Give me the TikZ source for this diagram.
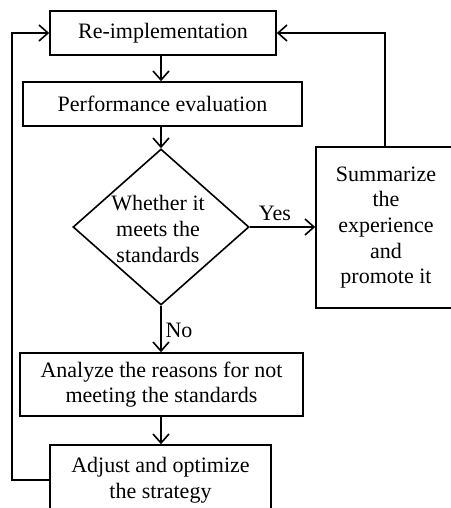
\documentclass[tikz,border=0pt]{standalone}
\usepackage{fontspec}
\setmainfont{Liberation Serif}
\usetikzlibrary{arrows.meta,shapes.geometric}
\begin{document}
\begin{tikzpicture}[x=1pt,y=-1pt, line width=1.6pt,
  txt/.style={font=\fontsize{22}{25.7}\selectfont, align=center},
  box/.style={draw, rectangle, txt, inner sep=0pt},
  arr/.style={-{Straight Barb[length=9pt,width=16pt]}}]
\useasboundingbox[fill=white] (0,0) rectangle (450,508);
\node[box, minimum width=226pt, minimum height=44pt] (re) at (163,33) {Re-implementation};
\node[box, minimum width=279pt, minimum height=44pt] (pe) at (162.5,104) {Performance evaluation};
\node[diamond, draw, minimum width=176pt, minimum height=156pt, inner sep=0pt] (dia) at (161,227) {};
\node[txt] (dt) at (158,229) {Whether it\\meets the\\standards};
\node[box, minimum width=140pt, minimum height=161pt] (sum) at (386,227.5) {Summarize\\the\\experience\\and\\promote it};
\node[box, minimum width=283pt, minimum height=63pt] (an) at (161.5,384.5) {Analyze the reasons for not\\meeting the standards};
\node[box, minimum width=221pt, minimum height=70pt] (ad) at (160.5,480) {Adjust and optimize\\the strategy};
\node[txt, inner sep=0pt] (yes) at (275,213) {Yes};
\node[txt, inner sep=0pt] (no) at (179,330) {No};
\coordinate (rt) at (385,33);
\coordinate (lt) at (12,33);
\draw[arr] (dia.north |- re.south) -- (dia.north |- pe.north);
\draw[arr] (dia.north |- pe.south) -- (dia.north);
\draw[arr] (dia.east) -- (sum.west |- dia.east);
\draw[arr] (dia.south) -- (dia.south |- an.north);
\draw[arr] (dia.south |- an.south) -- (dia.south |- ad.north);
\draw[arr] (sum.north -| rt) -- (rt) -- (re.east);
\draw[arr] (ad.west) -- (ad.west -| lt) -- (lt) -- (re.west);
\end{tikzpicture}
\end{document}
